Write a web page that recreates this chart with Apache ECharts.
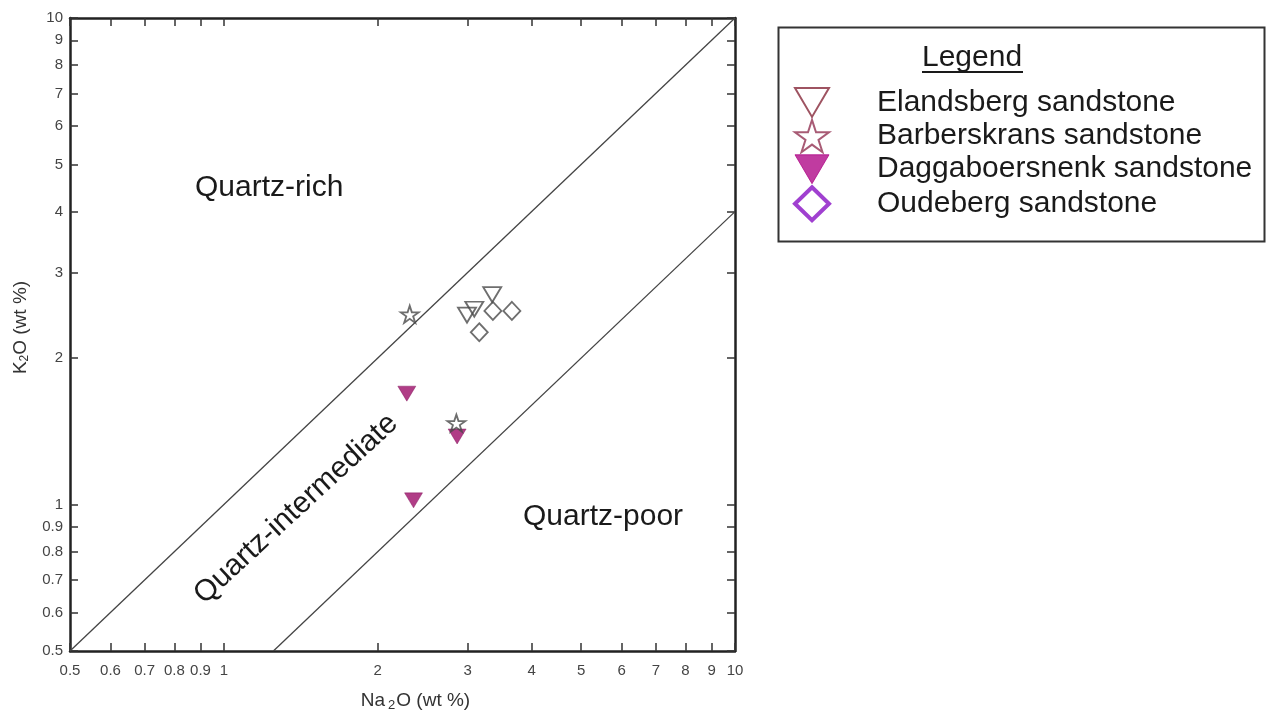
<!DOCTYPE html>
<html>
<head>
<meta charset="utf-8">
<script src="https://cdn.jsdelivr.net/npm/echarts@6/dist/echarts.min.js"></script>
<style>html,body{margin:0;padding:0;background:#fff;}#c{width:1268px;height:717px;}</style>
</head>
<body>
<div id="c"></div>
<script>
// ---- data (Na2O, K2O in wt %) ----
const seriesNames = ['Elandsberg sandstone', 'Barberskrans sandstone', 'Daggaboersnenk sandstone', 'Oudeberg sandstone'];
const elandsberg = [[3.35, 2.70], [3.09, 2.52], [2.99, 2.45]];
const barberskrans = [[2.31, 2.46], [2.85, 1.47]];
const daggaboersnenk = [[2.28, 1.69], [2.86, 1.38], [2.35, 1.02]];
const oudeberg = [[3.36, 2.50], [3.66, 2.50], [3.16, 2.26]];
const upperBoundary = [[0.5, 0.5], [10, 10]];
const lowerBoundary = [[1.25, 0.5], [10, 4]];
const tickValues = [0.5, 0.6, 0.7, 0.8, 0.9, 1, 2, 3, 4, 5, 6, 7, 8, 9, 10];
const regionLabels = ['Quartz-rich', 'Quartz-intermediate', 'Quartz-poor'];

const FONT = '"Liberation Sans", Arial, sans-serif';
const triDown = 'path://M0,0L20,0L10,17Z';
const star = 'path://M10,0L12.245,6.91L19.511,6.91L13.633,11.18L15.878,18.09L10,13.82L4.122,18.09L6.367,11.18L0.489,6.91L7.755,6.91Z';

function axisCommon(show) {
  return {
    type: 'log', logBase: 10, min: 0.5, max: 10,
    axisLine: { show: true, onZero: false, lineStyle: { color: '#222', width: 2.5 } },
    axisTick: { show: true, inside: true, length: 8, customValues: tickValues, lineStyle: { color: '#333', width: 1.5 } },
    minorTick: { show: false },
    splitLine: { show: false },
    axisLabel: { show: show, customValues: tickValues, fontFamily: FONT, fontSize: 15, color: '#444',
      formatter: v => String(Math.round(v * 10) / 10) }
  };
}

const chart = echarts.init(document.getElementById('c'), null, { renderer: 'canvas' });
const openStyle = { color: 'rgba(255,255,255,0)', borderColor: '#4a4a4a', borderWidth: 1.8 };

const option = {
  backgroundColor: '#fff',
  animation: false,
  grid: { left: 70, right: 533, top: 18, bottom: 64 },
  xAxis: [
    Object.assign(axisCommon(true), {
      position: 'bottom',
      name: '{a|Na}{s|2}{a|O (wt %)}', nameLocation: 'middle', nameGap: 38,
      nameTextStyle: { padding: [0, 0, 0, 26], rich: { a: { fontFamily: FONT, fontSize: 19, color: '#333' }, s: { fontFamily: FONT, fontSize: 13, color: '#333', padding: [10, 1, 0, 3] } } },
      axisLabel: Object.assign(axisCommon(true).axisLabel, { margin: 12 })
    }),
    Object.assign(axisCommon(false), { position: 'top' })
  ],
  yAxis: [
    Object.assign(axisCommon(true), {
      position: 'left',
      name: '{a|K}{s|2}{a|O (wt %)}', nameLocation: 'middle', nameGap: 39,
      nameTextStyle: { padding: [0, 0, 0, 14], rich: { a: { fontFamily: FONT, fontSize: 19, color: '#333' }, s: { fontFamily: FONT, fontSize: 12, color: '#333', padding: [9, 0, 0, 0] } } },
      axisLabel: Object.assign(axisCommon(true).axisLabel, { margin: 7 })
    }),
    Object.assign(axisCommon(false), { position: 'right' })
  ],
  legend: {
    orient: 'vertical', left: 788, top: 82,
    itemWidth: 34, itemHeight: 33, itemGap: 1,
    selectedMode: false,
    textStyle: { fontFamily: FONT, fontSize: 30, color: '#1a1a1a',
      rich: { g: { width: 43 }, t: { fontFamily: FONT, fontSize: 30, color: '#1a1a1a' } } },
    formatter: n => '{g|}{t|' + n + '}',
    data: [
      { name: seriesNames[0], icon: triDown, itemStyle: { color: '#fff', borderColor: '#86283a', borderWidth: 2 } },
      { name: seriesNames[1], icon: star, itemStyle: { color: '#fff', borderColor: '#923252', borderWidth: 2 } },
      { name: seriesNames[2], icon: triDown, itemStyle: { color: '#b00a88', borderColor: '#b00a88', borderWidth: 1 } },
      { name: seriesNames[3], icon: 'diamond', itemStyle: { color: '#fff', borderColor: '#8810c4', borderWidth: 4 } }
    ]
  },
  graphic: [
    { type: 'rect', left: 776, top: 25, shape: { width: 486, height: 214 }, style: { fill: 'none', stroke: '#333', lineWidth: 2 }, z: 10 },
    { type: 'text', left: 922, top: 43, style: { text: 'Legend', font: '30px ' + FONT, fill: '#1a1a1a' }, z: 10 },
    { type: 'line', shape: { x1: 922, y1: 72, x2: 1023, y2: 72 }, style: { stroke: '#1a1a1a', lineWidth: 2 }, z: 10 },
    { type: 'text', x: 195, y: 188, style: { text: regionLabels[0], font: '30px ' + FONT, fill: '#1a1a1a', verticalAlign: 'middle', align: 'left' }, z: 10 },
    { type: 'text', x: 296, y: 509, rotation: 0.745, style: { text: regionLabels[1], font: '30px ' + FONT, fill: '#1a1a1a', verticalAlign: 'middle', align: 'center' }, z: 10 },
    { type: 'text', x: 523, y: 517, style: { text: regionLabels[2], font: '30px ' + FONT, fill: '#1a1a1a', verticalAlign: 'middle', align: 'left' }, z: 10 }
  ],
  series: [
    { type: 'line', data: upperBoundary, symbol: 'none', lineStyle: { color: '#444', width: 1.3 }, silent: true },
    { type: 'line', data: lowerBoundary, symbol: 'none', lineStyle: { color: '#444', width: 1.3 }, silent: true },
    { name: seriesNames[0], type: 'scatter', data: elandsberg, symbol: triDown, symbolSize: [18, 15], itemStyle: openStyle, z: 3 },
    { name: seriesNames[1], type: 'scatter', data: barberskrans, symbol: star, symbolSize: [18, 17], itemStyle: openStyle, z: 4 },
    { name: seriesNames[2], type: 'scatter', data: daggaboersnenk, symbol: triDown, symbolSize: [18, 15], itemStyle: { color: '#9c0d68', borderColor: '#7a0a52', borderWidth: 0.5 }, z: 3 },
    { name: seriesNames[3], type: 'scatter', data: oudeberg, symbol: 'diamond', symbolSize: [17, 18], itemStyle: openStyle, z: 2 }
  ]
};
chart.setOption(option);
</script>
</body>
</html>
